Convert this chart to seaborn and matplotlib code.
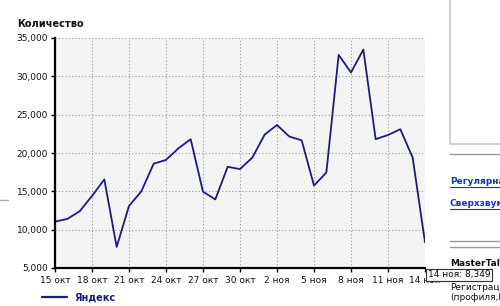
import matplotlib
matplotlib.use("Agg")
import matplotlib.pyplot as plt
import matplotlib.ticker as mticker
from matplotlib.lines import Line2D
import seaborn as sns
import pandas as pd

# ---- data ----
day_index = list(range(31))
values = [11050, 11400, 12400, 14400, 16550, 7750, 13100, 15000, 18600, 19100,
          20600, 21800, 14950, 13950, 18200, 17900, 19400, 22400, 23650, 22150,
          21650, 15750, 17450, 32800, 30500, 33500, 21800, 22350, 23100, 19400, 8349]
tick_positions = [0, 3, 6, 9, 12, 15, 18, 21, 24, 27, 30]
tick_labels = ["15 окт", "18 окт", "21 окт", "24 окт", "27 окт", "30 окт",
               "2 ноя", "5 ноя", "8 ноя", "11 ноя", "14 ноя"]
series_name = "Яндекс"
y_title = "Количество"
tooltip_text = "14 ноя: 8,349"

df = pd.DataFrame({"day": day_index, "value": values, "series": series_name})

sns.set_theme(style="white")
plt.rcParams["font.family"] = ["DejaVu Sans"]

W, H = 500, 306
fig = plt.figure(figsize=(W / 100, H / 100), dpi=100)
fig.patch.set_facecolor("white")
ax = fig.add_axes([55 / W, 1 - 268 / H, (425 - 55) / W, (268 - 38) / H])
ax.set_facecolor("#f4f4f4")

navy = "#1c1c80"
sns.lineplot(data=df, x="day", y="value", hue="series", palette=[navy],
             linewidth=1.3, ax=ax, legend=True)

ax.set_xlim(0, 30)
ax.set_ylim(5000, 35000)
ax.set_xticks(tick_positions)
ax.set_xticklabels(tick_labels)
ax.yaxis.set_major_locator(mticker.MultipleLocator(5000))
ax.yaxis.set_major_formatter(mticker.FuncFormatter(lambda v, p: f"{int(v):,}"))
ax.set_xlabel("")
ax.set_ylabel("")

ax.grid(True, color="#999999", linestyle=(0, (1, 2)), linewidth=0.8)
for s in ["top", "right"]:
    ax.spines[s].set_visible(False)
for s in ["left", "bottom"]:
    ax.spines[s].set_color("black")
    ax.spines[s].set_linewidth(1.6)
ax.tick_params(axis="both", which="major", length=3, width=1, color="black",
               labelsize=6.5, labelcolor="#111111", pad=2, direction="out",
               left=True, bottom=True)
ax.tick_params(axis="x", pad=3)

fig.text(17 / W, 1 - 24 / H, y_title, fontsize=7, fontweight="bold",
         ha="left", va="center", color="#111111")

leg = ax.legend(loc="center left", bbox_to_anchor=(33 / W, 1 - 297 / H),
                bbox_transform=fig.transFigure, frameon=False,
                handlelength=2.6, handletextpad=0.7,
                prop={"weight": "bold", "size": 7}, labelcolor=navy)
for lh in leg.get_lines():
    lh.set_linewidth(1.6)

# tooltip
tt = fig.text(428 / W, 1 - 275 / H, tooltip_text, fontsize=6.5, ha="left", va="center",
              color="#111111", zorder=10,
              bbox=dict(boxstyle="square,pad=0.2", fc="#f8f8f8", ec="#333333", lw=0.8))

# right-side page fragments
gray = "#c8c8c8"
fig.add_artist(Line2D([450 / W, 450 / W], [1.0, 1 - 144 / H], color=gray, lw=1.2))
fig.add_artist(Line2D([450 / W, 1.0], [1 - 144 / H, 1 - 144 / H], color=gray, lw=1.2))
fig.add_artist(Line2D([450 / W, 1.0], [1 - 154 / H, 1 - 154 / H], color="#999999", lw=1))
fig.add_artist(Line2D([450 / W, 1.0], [1 - 241 / H, 1 - 241 / H], color="#999999", lw=1))
fig.add_artist(Line2D([450 / W, 1.0], [1 - 247 / H, 1 - 247 / H], color="#999999", lw=1))
fig.add_artist(Line2D([0, 8 / W], [1 - 200 / H, 1 - 200 / H], color="#aaaaaa", lw=1))
link_blue = "#1a33bb"
for txt, yy in [("Регулярная", 181), ("Сверхзвук", 203)]:
    fig.text(450 / W, 1 - yy / H, txt, fontsize=6.5, fontweight="bold",
             color=link_blue, ha="left", va="center")
    fig.add_artist(Line2D([450 / W, 1.0], [1 - (yy + 6) / H, 1 - (yy + 6) / H],
                          color=link_blue, lw=0.8))
fig.text(450 / W, 1 - 263 / H, "MasterTalk", fontsize=6.5, fontweight="bold",
         color="#111111", ha="left", va="center")
fig.text(450 / W, 1 - 287 / H, "Регистрация", fontsize=6.5, color="#111111",
         ha="left", va="center")
fig.text(450 / W, 1 - 298 / H, "(профиля,DI", fontsize=6.5, color="#111111",
         ha="left", va="center")

fig.savefig("out.png", dpi=100, facecolor="white")
